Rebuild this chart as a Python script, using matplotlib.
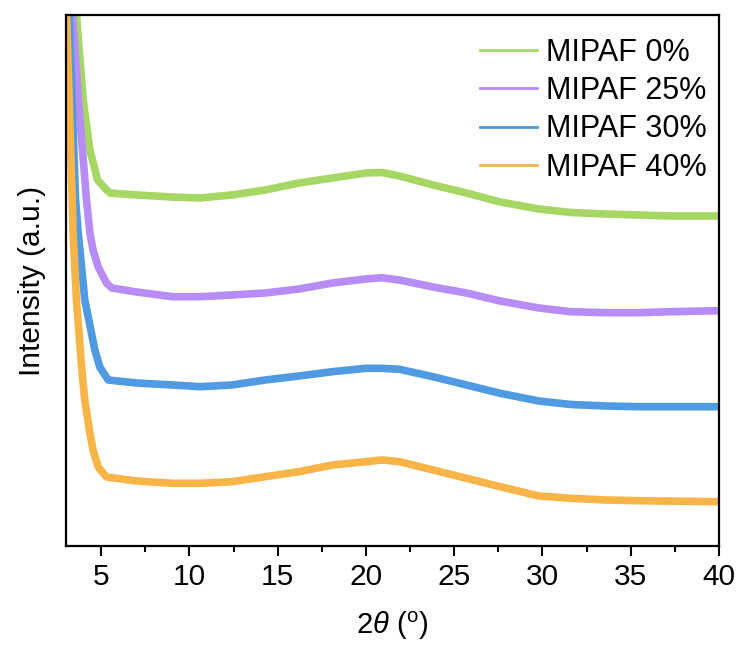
import matplotlib
matplotlib.use("Agg")
import matplotlib.pyplot as plt
from matplotlib.ticker import MultipleLocator, NullLocator

plt.rcParams['font.family'] = ['Liberation Sans', 'DejaVu Sans']
plt.rcParams['mathtext.fontset'] = 'custom'
plt.rcParams['mathtext.rm'] = 'Liberation Sans'
plt.rcParams['mathtext.it'] = 'Liberation Sans:italic'

labels = ["MIPAF 0%", "MIPAF 25%", "MIPAF 30%", "MIPAF 40%"]
colors = ["#A6D664", "#B78CF6", "#4F9AE2", "#F8B446"]

x_0 = [3.45, 3.6, 3.98, 4.36, 4.8, 5.3, 5.5, 7.0, 9.0, 10.6, 12.4, 14.3, 16.2, 18.1,
       20.0, 20.9, 21.9, 23.8, 25.7, 27.6, 29.8, 31.6, 33.6, 35.4, 37.3, 40.0]
y_0 = [600, 531, 446, 396, 366, 356, 353, 351, 349, 348, 351, 356, 363, 368,
       373, 373.5, 370, 361, 353, 344, 337, 333.5, 332, 331, 330, 330]

x_25 = [3.2, 3.38, 3.71, 4.17, 4.36, 4.54, 4.83, 5.3, 5.6, 7.0, 9.05, 10.6, 12.4, 14.3,
        16.2, 18.1, 20.0, 20.9, 21.9, 23.8, 25.7, 27.6, 29.8, 31.6, 33.6, 35.4, 37.3, 40.0]
y_25 = [600, 531, 446, 346, 313, 296, 279, 263, 258, 254, 249.3, 249.3, 251, 253,
        257, 263, 267, 268.3, 266, 259, 253, 245, 238, 234.3, 233.3, 233.3, 234.3, 235.3]

x_30 = [3.05, 3.19, 3.35, 3.55, 3.7, 3.89, 4.07, 4.45, 4.64, 4.92, 5.4, 7.0, 9.05, 10.6,
        12.4, 14.3, 16.2, 18.1, 20.0, 20.9, 21.9, 23.8, 25.7, 27.6, 29.8, 31.6, 33.6, 35.4, 40.0]
y_30 = [600, 531, 446, 346, 313, 279, 246, 213, 196, 179, 166, 163, 161, 159.3,
        161, 166, 170, 174.3, 177.7, 177.7, 176.7, 169.3, 161, 152.7, 145, 141.5, 140, 139.3, 139.3]

x_40 = [2.95, 3.04, 3.36, 3.41, 3.6, 3.89, 4.07, 4.36, 4.54, 4.83, 5.3, 7.0, 9.05, 10.6,
        12.4, 14.3, 16.2, 18.1, 20.0, 20.9, 21.9, 23.8, 25.7, 27.6, 29.8, 31.6, 33.6, 35.4, 40.0]
y_40 = [600, 531, 346, 313, 246, 179, 146, 113, 96, 79, 69, 65, 62.7, 62.7,
        64.3, 69.3, 74.3, 81, 84.3, 86, 84.3, 76, 67.7, 59.3, 50, 47.7, 46, 45.3, 44.3]

xs = [x_0, x_25, x_30, x_40]
ys = [y_0, y_25, y_30, y_40]

fig = plt.figure(figsize=(7.4, 6.46), dpi=100)
ax = fig.add_axes([0.089, 0.1548, 0.8826, 0.822])

for x, y, c, lab in zip(xs, ys, colors, labels):
    ax.plot(x, y, color=c, lw=5.5, label=lab, solid_joinstyle='round')

ax.set_xlim(3, 40)
ax.set_ylim(0, 531)
ax.xaxis.set_major_locator(MultipleLocator(5))
ax.xaxis.set_minor_locator(MultipleLocator(2.5))
ax.yaxis.set_major_locator(NullLocator())
ax.yaxis.set_minor_locator(NullLocator())
ax.tick_params(axis='x', which='major', direction='out', length=7.5, width=1.5,
               labelsize=21.5, pad=5, colors='black')
ax.tick_params(axis='x', which='minor', direction='out', length=4, width=1.5)
for s in ax.spines.values():
    s.set_linewidth(1.6)

ax.set_xlabel("2$\\mathit{\\theta}$ ($^{\\rm o}$)", fontsize=21, labelpad=13)
ax.set_ylabel("Intensity (a.u.)", fontsize=21.5, labelpad=14)

leg = ax.legend(loc='upper right', bbox_to_anchor=(1.016, 1.0), frameon=False,
                fontsize=22, handlelength=1.85, handletextpad=0.3,
                labelspacing=0.27, borderaxespad=0.35)
for ln in leg.get_lines():
    ln.set_linewidth(2)

fig.savefig("out.png", dpi=100)
